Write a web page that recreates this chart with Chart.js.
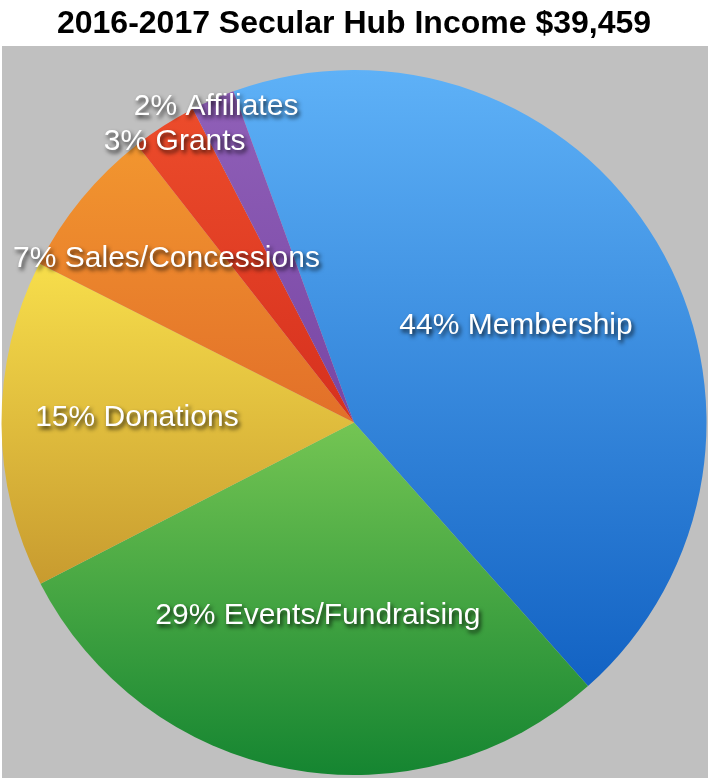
<!DOCTYPE html>
<html>
<head>
<meta charset="utf-8">
<title>2016-2017 Secular Hub Income</title>
<script src="https://cdn.jsdelivr.net/npm/chart.js@4/dist/chart.umd.min.js"></script>
<style>
  html, body { margin: 0; padding: 0; background: #ffffff; }
  #wrap { width: 708px; height: 778px; position: relative; }
</style>
</head>
<body>
<div id="wrap"><canvas id="income" width="708" height="778"></canvas></div>
<script>
// Income sources and their share of the year's total (percent)
const categories = ['Membership', 'Events/Fundraising', 'Donations', 'Sales/Concessions', 'Grants', 'Affiliates'];
const percentShares = [44, 29, 15, 7, 3, 2];
const chartTitle = '2016-2017 Secular Hub Income $39,459';

// Light (upper) and dark (lower) shade of every slice's vertical gradient
const sliceShades = [
  ['#5eb1f7', '#1262c3'],
  ['#74c553', '#158531'],
  ['#f7de4b', '#c89b2f'],
  ['#f2962f', '#e26f29'],
  ['#ec4c2b', '#d6301e'],
  ['#9060b8', '#7846a4']
];
// Radial position of each label (fraction of radius) and a small angular nudge (deg)
const labelRadius = [0.535, 0.557, 0.616, 0.707, 0.944, 0.977];
const labelNudge = [0, 0, 1.5, 1.8, 0, 0];

const ROTATION = -20; // degrees, measured from 12 o'clock
const FONT = '"Liberation Sans", Arial, Helvetica, sans-serif';

// Angles (radians) of every slice, following Chart.js's own convention
function sliceAngles() {
  const total = percentShares.reduce((a, b) => a + b, 0);
  let a = -Math.PI / 2 + ROTATION * Math.PI / 180;
  return percentShares.map(v => {
    const start = a;
    a += (v / total) * Math.PI * 2;
    return [start, a];
  });
}

function sliceGradient(context) {
  const chart = context.chart;
  const i = context.dataIndex;
  const area = chart.chartArea;
  if (!area || i === undefined) return sliceShades[i || 0][0];
  const cx = (area.left + area.right) / 2;
  const cy = (area.top + area.bottom) / 2;
  const r = Math.min(area.width, area.height) / 2;
  const [s, e] = sliceAngles()[i];
  const pts = [s, e];
  const q = Math.PI / 2;
  for (let k = Math.ceil(s / q); k * q <= e; k++) pts.push(k * q);
  let top = cy, bottom = cy;
  pts.forEach(a => {
    const y = cy + r * Math.sin(a);
    top = Math.min(top, y);
    bottom = Math.max(bottom, y);
  });
  const g = chart.ctx.createLinearGradient(0, top, 0, bottom);
  g.addColorStop(0, sliceShades[i][0]);
  g.addColorStop(1, sliceShades[i][1]);
  return g;
}

// Grey panel behind the pie
const panelBackground = {
  id: 'panelBackground',
  beforeDraw(chart) {
    const c = chart.ctx;
    c.save();
    c.fillStyle = '#ffffff';
    c.fillRect(0, 0, chart.width, chart.height);
    c.fillStyle = '#c0c0c0';
    c.fillRect(2, 46, chart.width - 2, chart.height - 46);
    c.restore();
  }
};

// White labels with a soft drop shadow placed inside each slice
const sliceLabels = {
  id: 'sliceLabels',
  afterDatasetsDraw(chart) {
    const meta = chart.getDatasetMeta(0);
    const c = chart.ctx;
    c.save();
    c.font = '30px ' + FONT;
    c.textAlign = 'center';
    c.textBaseline = 'middle';
    c.fillStyle = '#ffffff';
    c.shadowColor = 'rgba(0,0,0,0.8)';
    c.shadowOffsetX = 2;
    c.shadowOffsetY = 3;
    c.shadowBlur = 4;
    meta.data.forEach((arc, i) => {
      const p = arc.getProps(['x', 'y', 'startAngle', 'endAngle', 'outerRadius'], true);
      const mid = (p.startAngle + p.endAngle) / 2 + labelNudge[i] * Math.PI / 180;
      const d = p.outerRadius * labelRadius[i];
      const x = p.x + Math.cos(mid) * d;
      const y = p.y + Math.sin(mid) * d;
      c.fillText(percentShares[i] + '% ' + categories[i], x, y);
    });
    c.restore();
  }
};

new Chart(document.getElementById('income'), {
  type: 'pie',
  data: {
    labels: categories,
    datasets: [{
      data: percentShares,
      backgroundColor: sliceGradient,
      borderWidth: 0,
      hoverOffset: 0
    }]
  },
  options: {
    responsive: false,
    animation: false,
    events: [],
    rotation: ROTATION,
    layout: { padding: { top: 0, bottom: 3, left: 0, right: 0 } },
    plugins: {
      legend: { display: false },
      tooltip: { enabled: false },
      title: {
        display: true,
        text: chartTitle,
        color: '#000000',
        font: { family: FONT, size: 32, weight: 'bold', lineHeight: 1.2 },
        padding: { top: 5, bottom: 26.6 }
      }
    }
  },
  plugins: [panelBackground, sliceLabels]
});
</script>
</body>
</html>
